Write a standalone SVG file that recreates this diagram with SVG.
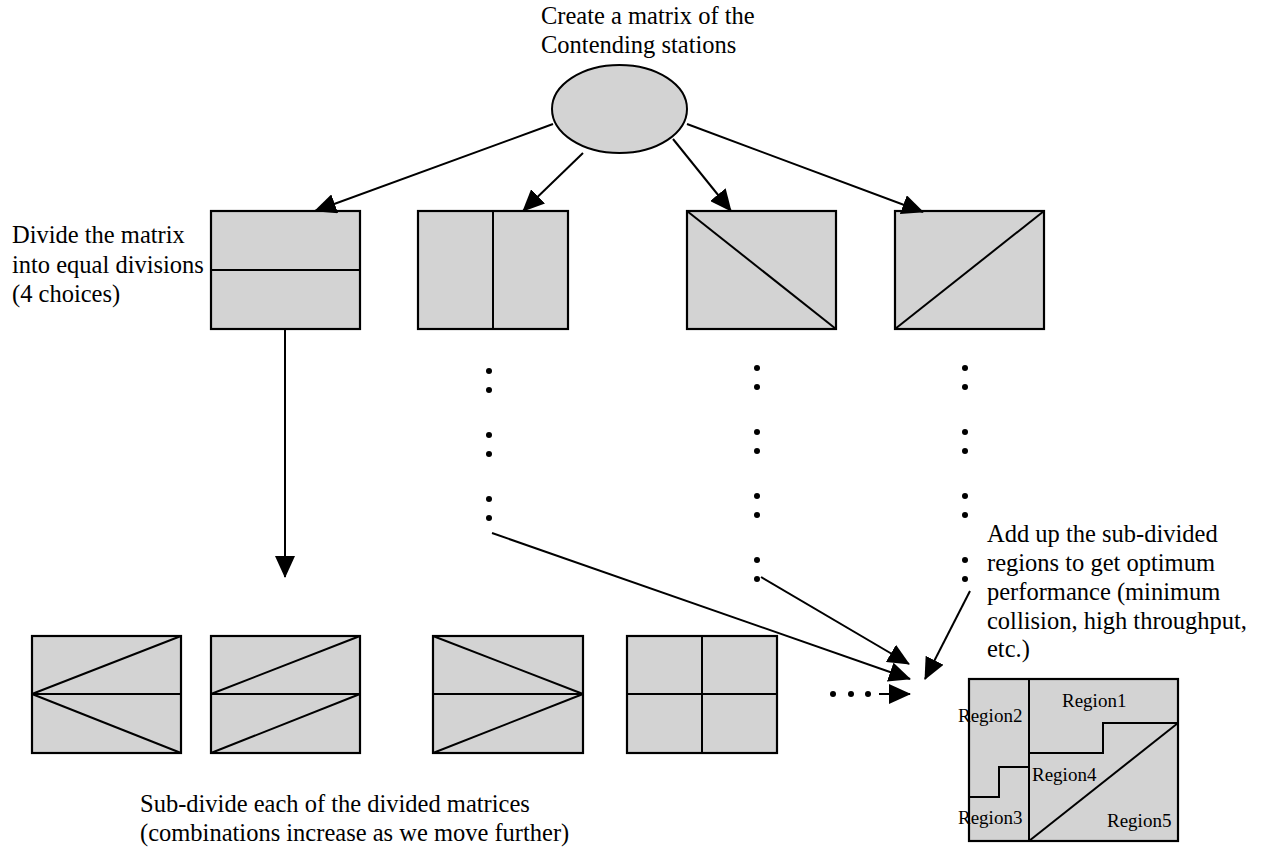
<svg xmlns="http://www.w3.org/2000/svg" width="1261" height="850" viewBox="0 0 1261 850">
<style>
.t{font-family:"Liberation Serif","Times New Roman",serif;font-size:24.5px;fill:#000}
.r{font-family:"Liberation Serif","Times New Roman",serif;font-size:19px;fill:#000}
.box{fill:#d3d3d3;stroke:#000;stroke-width:2.2}
.in{fill:none;stroke:#000;stroke-width:2}
.c{fill:none;stroke:#000;stroke-width:2}
.d{fill:#000}
</style>
<defs>
<marker id="ah" viewBox="0 0 22 20" refX="21" refY="10" markerWidth="22" markerHeight="20" markerUnits="userSpaceOnUse" orient="auto">
<path d="M0,0 L22,10 L0,20 z" fill="#000"/>
</marker>
</defs>
<rect width="1261" height="850" fill="#fff"/>

<g id="start">
<text class="t" x="541" y="24">Create a matrix of the</text>
<text class="t" x="541" y="53">Contending stations</text>
<ellipse cx="619.5" cy="109" rx="67.5" ry="44" fill="#d3d3d3" stroke="#000" stroke-width="2"/>
</g>

<g id="divide-label">
<text class="t" x="12" y="243">Divide the matrix</text>
<text class="t" x="12" y="273">into equal divisions</text>
<text class="t" x="12" y="302">(4 choices)</text>
</g>

<g id="div-h">
<rect class="box" x="211" y="211" width="149" height="118"/>
<line class="in" x1="211" y1="270" x2="360" y2="270"/>
</g>
<g id="div-v">
<rect class="box" x="418" y="211" width="150" height="118"/>
<line class="in" x1="493" y1="211" x2="493" y2="329"/>
</g>
<g id="div-d1">
<rect class="box" x="687" y="211" width="149" height="118"/>
<line class="in" x1="687" y1="211" x2="836" y2="329"/>
</g>
<g id="div-d2">
<rect class="box" x="895" y="211" width="149" height="118"/>
<line class="in" x1="895" y1="329" x2="1044" y2="211"/>
</g>

<g id="sub1">
<rect class="box" x="32" y="636" width="149" height="117"/>
<line class="in" x1="32" y1="694" x2="181" y2="694"/>
<line class="in" x1="32" y1="694" x2="181" y2="636"/>
<line class="in" x1="32" y1="694" x2="181" y2="753"/>
</g>
<g id="sub2">
<rect class="box" x="211" y="636" width="149" height="117"/>
<line class="in" x1="211" y1="694" x2="360" y2="694"/>
<line class="in" x1="211" y1="694" x2="360" y2="636"/>
<line class="in" x1="211" y1="753" x2="360" y2="694"/>
</g>
<g id="sub3">
<rect class="box" x="433" y="636" width="150" height="117"/>
<line class="in" x1="433" y1="694" x2="583" y2="694"/>
<line class="in" x1="433" y1="636" x2="583" y2="694"/>
<line class="in" x1="433" y1="753" x2="583" y2="694"/>
</g>
<g id="sub4">
<rect class="box" x="627" y="636" width="150" height="117"/>
<line class="in" x1="627" y1="694" x2="777" y2="694"/>
<line class="in" x1="702" y1="636" x2="702" y2="753"/>
</g>

<g id="sub-label">
<text class="t" x="140" y="812">Sub-divide each of the divided matrices</text>
<text class="t" x="140" y="841">(combinations increase as we move further)</text>
</g>

<g id="add-label">
<text class="t" x="987" y="542">Add up the sub-divided</text>
<text class="t" x="987" y="571">regions to get optimum</text>
<text class="t" x="987" y="600">performance (minimum</text>
<text class="t" x="987" y="629">collision, high throughput,</text>
<text class="t" x="987" y="657">etc.)</text>
</g>

<g id="result">
<rect class="box" x="969" y="679" width="209" height="162"/>
<line class="in" x1="1029" y1="679" x2="1029" y2="841"/>
<polyline class="in" points="1029,753 1103,753 1103,723 1178,723"/>
<line class="in" x1="1029" y1="841" x2="1178" y2="723"/>
<polyline class="in" points="969,797 999,797 999,767 1029,767"/>
<text class="r" x="1062" y="707">Region1</text>
<text class="r" x="958" y="722">Region2</text>
<text class="r" x="958" y="824">Region3</text>
<text class="r" x="1032" y="781">Region4</text>
<text class="r" x="1107" y="827">Region5</text>
</g>

<g id="dots">
<circle class="d" cx="489" cy="371" r="3"/><circle class="d" cx="489" cy="390" r="3"/>
<circle class="d" cx="489" cy="435" r="3"/><circle class="d" cx="489" cy="454" r="3"/>
<circle class="d" cx="489" cy="499" r="3"/><circle class="d" cx="489" cy="518" r="3"/>
<circle class="d" cx="757" cy="368" r="3"/><circle class="d" cx="757" cy="387" r="3"/>
<circle class="d" cx="757" cy="432" r="3"/><circle class="d" cx="757" cy="451" r="3"/>
<circle class="d" cx="757" cy="496" r="3"/><circle class="d" cx="757" cy="515" r="3"/>
<circle class="d" cx="757" cy="560" r="3"/><circle class="d" cx="757" cy="579" r="3"/>
<circle class="d" cx="965" cy="368" r="3"/><circle class="d" cx="965" cy="387" r="3"/>
<circle class="d" cx="965" cy="432" r="3"/><circle class="d" cx="965" cy="451" r="3"/>
<circle class="d" cx="965" cy="496" r="3"/><circle class="d" cx="965" cy="515" r="3"/>
<circle class="d" cx="965" cy="560" r="3"/><circle class="d" cx="965" cy="579" r="3"/>
<circle class="d" cx="833" cy="694" r="3"/><circle class="d" cx="851" cy="694" r="3"/>
<circle class="d" cx="868" cy="694" r="3"/>
</g>

<g id="connectors">
<line class="c" x1="553" y1="124" x2="315" y2="211" marker-end="url(#ah)"/>
<line class="c" x1="583" y1="153" x2="523" y2="211" marker-end="url(#ah)"/>
<line class="c" x1="673" y1="139" x2="731" y2="211" marker-end="url(#ah)"/>
<line class="c" x1="687" y1="124" x2="923" y2="212" marker-end="url(#ah)"/>
<line class="c" x1="285" y1="329" x2="285" y2="577" marker-end="url(#ah)"/>
<line class="c" x1="492" y1="533" x2="910" y2="679" marker-end="url(#ah)"/>
<line class="c" x1="761" y1="577" x2="909" y2="664" marker-end="url(#ah)"/>
<line class="c" x1="970" y1="591" x2="925" y2="679" marker-end="url(#ah)"/>
<line class="c" x1="879" y1="694" x2="910" y2="694" marker-end="url(#ah)"/>
</g>
</svg>
